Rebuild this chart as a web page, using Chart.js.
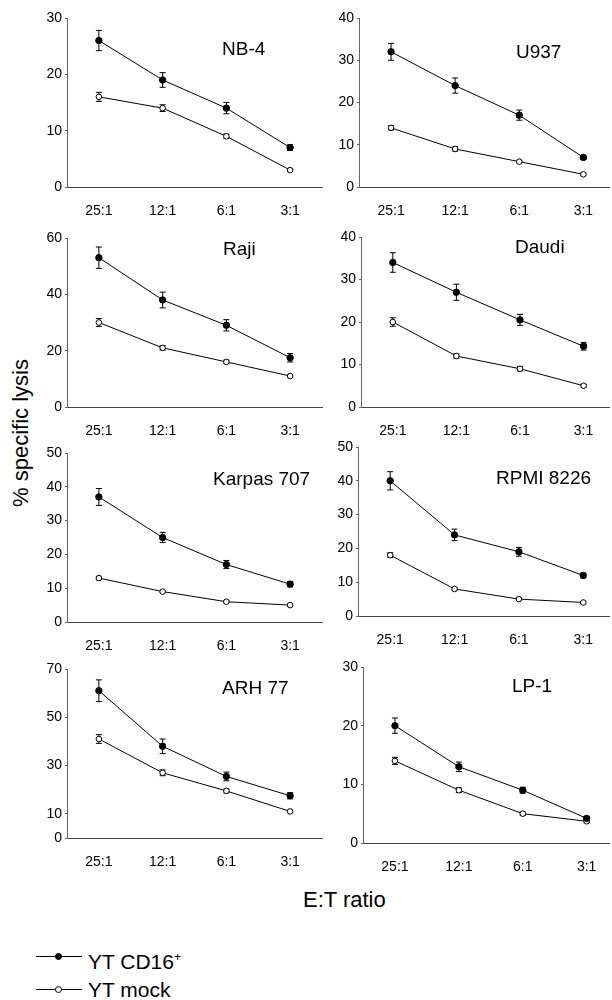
<!DOCTYPE html>
<html lang="en">
<head>
  <meta charset="UTF-8">
  <title>YT CD16+ vs YT mock - % specific lysis</title>
  <script src="https://cdn.jsdelivr.net/npm/chart.js"></script>
  <style>
    body { margin: 0; background: #fff; font-family: 'Liberation Sans', Arial, sans-serif; }
    #wrap { position: relative; width: 612px; height: 1000px; overflow: hidden; }
    #wrap canvas { position: absolute; }
    .lbl { position: absolute; color: #000; white-space: nowrap; }
    #ytitle { left: 21px; top: 433px; font-size: 22px; transform: translate(-50%, -50%) rotate(-90deg); }
    #xtitle { left: 303px; top: 887px; font-size: 22px; }
    .leg { position: absolute; left: 36px; width: 250px; height: 24px; font-size: 21px; line-height: 24px; white-space: nowrap; }
    .leg i { position: absolute; left: 0; top: 11px; width: 46px; border-top: 1.5px solid #000; }
    .leg b { position: absolute; left: 19px; top: 8px; width: 7px; height: 7px; border: 1.3px solid #000; border-radius: 50%; box-sizing: border-box; }
    .leg span { position: absolute; left: 52px; top: 0; white-space: nowrap; }
    sup { font-size: 12px; vertical-align: 8px; }
  </style>
</head>
<body>
<div id="wrap">
  <div class="lbl" id="ytitle">% specific lysis</div>
  <div class="lbl" id="xtitle">E:T ratio</div>
  <div class="leg" style="top:945px"><i></i><b style="background:#000"></b><span>YT CD16<sup>+</sup></span></div>
  <div class="leg" style="top:978px"><i></i><b style="background:#fff"></b><span>YT mock</span></div>
</div>

<script>
  // E:T ratios on the x axis
  const ratios = ['25:1', '12:1', '6:1', '3:1'];
  const cellLines = ['NB-4', 'U937', 'Raji', 'Daudi', 'Karpas 707', 'RPMI 8226', 'ARH 77', 'LP-1'];

  // YT CD16+ (filled) and YT mock (open), mean and error
  const cd16 = [
    [26, 19, 14, 7],
    [32, 24, 17, 7],
    [53, 38, 29, 17.5],
    [34, 27, 20.5, 14.3],
    [37, 25, 17, 11.2],
    [40, 24, 19, 12],
    [61, 38, 25.5, 17.5],
    [20, 13, 9, 4.2]
  ];
  const cd16Err = [
    [1.8, 1.3, 1.0, 0.5],
    [2.0, 1.8, 1.2, 0.5],
    [3.8, 2.8, 2.0, 1.5],
    [2.3, 1.9, 1.3, 0.9],
    [2.5, 1.5, 1.2, 0.8],
    [2.7, 1.7, 1.3, 0.7],
    [4.5, 3.0, 1.8, 1.3],
    [1.3, 0.8, 0.5, 0.3]
  ];
  const mock = [
    [16, 14, 9, 3],
    [14, 9, 6, 3],
    [30, 21, 16, 11],
    [20, 12, 9, 5],
    [13, 9, 6, 5],
    [18, 8, 5, 4],
    [41, 27, 19.5, 11],
    [14, 9, 5, 3.7]
  ];
  const mockErr = [
    [0.8, 0.6, 0.4, 0.2],
    [0.5, 0.5, 0.3, 0.3],
    [1.4, 0.8, 0.6, 0.4],
    [1.0, 0.5, 0.5, 0.3],
    [0.5, 0.3, 0.3, 0.3],
    [0.7, 0.4, 0.3, 0.3],
    [1.8, 1.2, 0.8, 0.5],
    [0.6, 0.4, 0.3, 0.2]
  ];
  const yMax = [30, 40, 60, 40, 50, 50, 70, 30];
  const yTicks = [
    [0, 10, 20, 30],
    [0, 10, 20, 30, 40],
    [0, 20, 40, 60],
    [0, 10, 20, 30, 40],
    [0, 10, 20, 30, 40, 50],
    [0, 10, 20, 30, 40, 50],
    [0, 10, 30, 50, 70],
    [0, 10, 20, 30]
  ];

  // where each plot sits on the page (chart area edges) and its name label
  const boxes = [
    { left: 67,  top: 18,  bottom: 187, right: 323, xmax: 3.5,  tx: 222, ty: 50 },
    { left: 359, top: 18,  bottom: 187, right: 610, xmax: 3.4,  tx: 516, ty: 53 },
    { left: 67,  top: 238, bottom: 407, right: 323, xmax: 3.5,  tx: 223, ty: 250 },
    { left: 361, top: 237, bottom: 407, right: 610, xmax: 3.4,  tx: 515, ty: 248 },
    { left: 67,  top: 453, bottom: 622, right: 323, xmax: 3.5,  tx: 213, ty: 480 },
    { left: 358, top: 447, bottom: 616, right: 610, xmax: 3.4,  tx: 496, ty: 479 },
    { left: 67,  top: 669, bottom: 838, right: 323, xmax: 3.5,  tx: 222, ty: 689 },
    { left: 363, top: 667, bottom: 843, right: 610, xmax: 3.35, tx: 512, ty: 687 }
  ];

  const YW = 50, XH = 40, PT = 12, PR = 4;
  const tickFont = { family: "'Liberation Sans', Arial, sans-serif", size: 14 };

  const errorBars = {
    id: 'errorBars',
    beforeDatasetsDraw(chart) {
      const { ctx, scales: { x, y } } = chart;
      ctx.save();
      ctx.strokeStyle = '#000';
      ctx.lineWidth = 1;
      chart.data.datasets.forEach(ds => {
        ds.data.forEach((p, j) => {
          const e = ds.err[j];
          const px = x.getPixelForValue(p.x);
          const hi = y.getPixelForValue(p.y + e);
          const lo = y.getPixelForValue(p.y - e);
          ctx.beginPath();
          ctx.moveTo(px, hi); ctx.lineTo(px, lo);
          ctx.moveTo(px - 3, hi); ctx.lineTo(px + 3, hi);
          ctx.moveTo(px - 3, lo); ctx.lineTo(px + 3, lo);
          ctx.stroke();
        });
      });
      ctx.restore();
    }
  };

  const panelTitle = {
    id: 'panelTitle',
    afterDraw(chart, args, opts) {
      const ctx = chart.ctx;
      ctx.save();
      ctx.fillStyle = '#000';
      ctx.font = "19px 'Liberation Sans', Arial, sans-serif";
      ctx.textAlign = 'left';
      ctx.textBaseline = 'middle';
      ctx.fillText(opts.text, opts.x, opts.y);
      ctx.restore();
    }
  };

  const wrap = document.getElementById('wrap');

  cellLines.forEach((name, i) => {
    const b = boxes[i];
    const cl = b.left - YW, ct = b.top - PT;
    const cv = document.createElement('canvas');
    cv.width = b.right - cl + PR;
    cv.height = b.bottom - ct + XH;
    cv.style.left = cl + 'px';
    cv.style.top = ct + 'px';
    wrap.appendChild(cv);

    new Chart(cv, {
      type: 'line',
      data: {
        datasets: [
          {
            label: 'YT CD16+',
            data: cd16[i].map((v, j) => ({ x: j, y: v })),
            err: cd16Err[i],
            borderColor: '#000', borderWidth: 1,
            pointRadius: 3.2, pointBackgroundColor: '#000', pointBorderColor: '#000', pointBorderWidth: 1,
            clip: false
          },
          {
            label: 'YT mock',
            data: mock[i].map((v, j) => ({ x: j, y: v })),
            err: mockErr[i],
            borderColor: '#000', borderWidth: 1,
            pointRadius: 2.8, pointBackgroundColor: '#fff', pointBorderColor: '#000', pointBorderWidth: 1,
            clip: false
          }
        ]
      },
      options: {
        responsive: false,
        animation: false,
        layout: { padding: { left: 0, top: PT, right: PR, bottom: 0 } },
        plugins: {
          legend: { display: false },
          tooltip: { enabled: false },
          panelTitle: { text: name, x: b.tx - cl, y: b.ty - ct }
        },
        scales: {
          x: {
            type: 'linear',
            min: -0.5,
            max: b.xmax,
            afterBuildTicks: s => { s.ticks = [0, 1, 2, 3].map(v => ({ value: v })); },
            afterFit: s => { s.height = XH; },
            ticks: { callback: v => ratios[v], font: tickFont, color: '#000', padding: 16, maxRotation: 0 },
            grid: { display: false, drawTicks: false },
            border: { color: '#444', width: 1 }
          },
          y: {
            min: 0,
            max: yMax[i],
            afterBuildTicks: s => { s.ticks = yTicks[i].map(v => ({ value: v })); },
            afterFit: s => { s.width = YW; },
            ticks: { font: tickFont, color: '#000', padding: 3 },
            grid: { drawOnChartArea: false, tickLength: 2, color: '#666' },
            border: { color: '#666', width: 1 }
          }
        }
      },
      plugins: [errorBars, panelTitle]
    });
  });
</script>
</body>
</html>
